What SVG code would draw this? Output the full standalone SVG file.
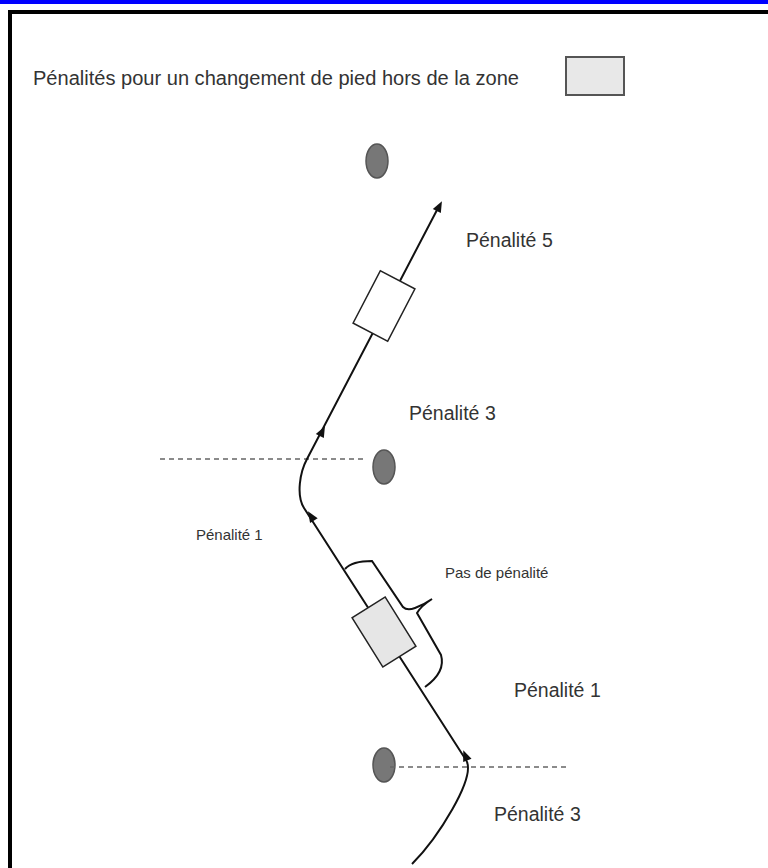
<svg xmlns="http://www.w3.org/2000/svg" width="768" height="868" viewBox="0 0 768 868">
<style>
  text { font-family: "Liberation Sans", Arial, sans-serif; fill: #333; }
  .big { font-size: 19.5px; }
  .small { font-size: 15px; }
  .cone { fill: #777; stroke: #555; stroke-width: 1.5; }
  .dash { stroke: #666; stroke-width: 1.5; stroke-dasharray: 5 4; fill: none; }
  .track { stroke: #111; stroke-width: 2; fill: none; }
  .ah { fill: #111; }
</style>
<defs>
  <path id="arrow" d="M2,0 L-9,-4.5 L-9,4.5 Z"/>
</defs>
<rect x="0" y="0" width="768" height="868" fill="#fff"/>
<g id="frame">
  <rect x="0" y="0" width="768" height="4" fill="#0000ff"/>
  <line x1="8" y1="12" x2="768" y2="12" stroke="#000" stroke-width="4"/>
  <line x1="10" y1="10" x2="10" y2="868" stroke="#000" stroke-width="4"/>
</g>
<g id="legend">
  <text class="big" x="33" y="85" textLength="486" lengthAdjust="spacingAndGlyphs">Pénalités pour un changement de pied hors de la zone</text>
  <rect x="566" y="57" width="58" height="38" fill="#e8e8e8" stroke="#555" stroke-width="2"/>
</g>
<g id="cone-top"><ellipse class="cone" cx="377" cy="161" rx="11" ry="17"/></g>
<g id="cone-middle"><ellipse class="cone" cx="384" cy="467" rx="11" ry="17"/></g>
<g id="cone-bottom"><ellipse class="cone" cx="384" cy="765" rx="11" ry="17"/></g>
<g id="connectors">
  <line class="dash" x1="160" y1="459" x2="364" y2="459"/>
  <line class="dash" x1="390" y1="767" x2="568" y2="767"/>
  <path class="track" d="M412 864 C437 839 477 777 466 760 L304 508 C296 495 300 472 307 459 L437 210"/>
  <use href="#arrow" class="ah" transform="translate(441 203) rotate(-62.4)"/>
  <use href="#arrow" class="ah" transform="translate(324 428) rotate(-62.4)"/>
  <use href="#arrow" class="ah" transform="translate(309 513) rotate(-122.8)"/>
  <use href="#arrow" class="ah" transform="translate(464 752) rotate(-112)"/>
  <path class="track" stroke-width="1.5" d="M345 569 Q352 561 372 561 L403 607 Q407 611 415 608 Q425 604 432 599 Q421 606 417 613 L441 655 Q446 672 425 687"/>
</g>
<g id="box-white"><rect x="-19.5" y="-29.5" width="39" height="59" fill="#fff" stroke="#222" stroke-width="1.5" transform="translate(384 306) rotate(27.5)"/></g>
<g id="box-gray"><rect x="-19.5" y="-29" width="39" height="58" fill="#e6e6e6" stroke="#222" stroke-width="1.5" transform="translate(384 632) rotate(-32)"/></g>
<g id="labels">
  <text class="big" x="466" y="247">Pénalité 5</text>
  <text class="big" x="409" y="420">Pénalité 3</text>
  <text class="small" x="196" y="540">Pénalité 1</text>
  <text class="small" x="445" y="578">Pas de pénalité</text>
  <text class="big" x="514" y="697">Pénalité 1</text>
  <text class="big" x="494" y="821">Pénalité 3</text>
</g>
</svg>
